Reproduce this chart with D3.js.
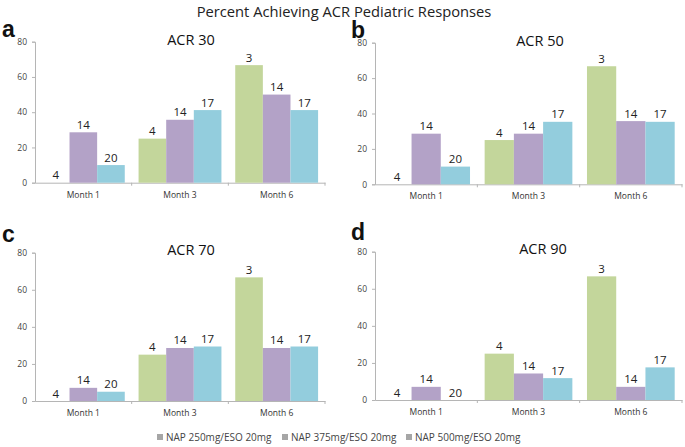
<!DOCTYPE html>
<html><head><meta charset="utf-8">
<script src="https://cdn.jsdelivr.net/npm/d3@7"></script>
<style>body{margin:0;background:#fff}svg{display:block}</style>
</head><body>
<svg id="c" width="685" height="447"></svg>
<script>
const months = ["Month 1", "Month 3", "Month 6"];
const series = ["NAP 250mg/ESO 20mg", "NAP 375mg/ESO 20mg", "NAP 500mg/ESO 20mg"];
const nLabels = [[4, 14, 20], [4, 14, 17], [3, 14, 17]];
const acr30 = [[0, 28.6, 10], [25, 35.7, 41.2], [66.7, 50, 41.2]];
const acr50 = [[0, 28.6, 10], [25, 28.6, 35.3], [66.7, 35.7, 35.3]];
const acr70 = [[0, 7.1, 5], [25, 28.6, 29.4], [66.7, 28.6, 29.4]];
const acr90 = [[0, 7.1, 0], [25, 14.3, 11.8], [66.7, 7.1, 17.6]];
const panelTitles = ["ACR 30", "ACR 50", "ACR 70", "ACR 90"];
const panelLetters = ["a", "b", "c", "d"];
const yTicks = [0, 20, 40, 60, 80];
const mainTitle = "Percent Achieving ACR Pediatric Responses";

const colors = ["#c3d69b", "#b3a2c7", "#93cddd"];
const panelData = [acr30, acr50, acr70, acr90];
const layout = [
  {l: 35, r: 325, t: 41.7, b: 182.7, tx: 191, ty: 45, lx: 2, ly: 37},
  {l: 375, r: 682, t: 42.7, b: 184.3, tx: 540, ty: 46, lx: 351, ly: 37.5},
  {l: 35, r: 325, t: 252.7, b: 401, tx: 191, ty: 255, lx: 2, ly: 241.5},
  {l: 375, r: 682, t: 251.7, b: 400, tx: 543, ty: 254, lx: 351, ly: 240}
];
const font = "'Open Sans', sans-serif";
const svg = d3.select("#c");

// main title
const mt = svg.append("text").attr("x", 344).attr("y", 16.5).attr("text-anchor", "middle")
  .attr("font-family", font).attr("font-size", 16).attr("fill", "#222").text(mainTitle);
const w = mt.node().getComputedTextLength();
mt.attr("font-size", 16 * 295 / w);

panelData.forEach((data, pi) => {
  const L = layout[pi];
  const g = svg.append("g");
  const x0 = d3.scaleBand().domain(months).range([L.l, L.r]).paddingInner(0).paddingOuter(0);
  const x1 = d3.scaleBand().domain(series).range([0, x0.bandwidth()]).paddingInner(0).paddingOuter(0.25);
  const y = d3.scaleLinear().domain([0, 80]).range([L.b, L.t]);

  // y axis
  const ya = g.append("g").attr("transform", `translate(${L.l},0)`)
    .call(d3.axisLeft(y).tickValues(yTicks).tickSize(3).tickPadding(5));
  ya.select(".domain").attr("stroke", "#b5b5b5");
  ya.selectAll(".tick line").attr("stroke", "#b5b5b5");
  ya.selectAll(".tick text").attr("font-family", font).attr("font-size", 8.5).attr("fill", "#444");

  // x axis
  const xa = g.append("g").attr("transform", `translate(0,${L.b})`)
    .call(d3.axisBottom(x0).tickSize(0).tickPadding(9));
  xa.select(".domain").attr("stroke", "#b5b5b5");
  xa.selectAll(".tick text").attr("font-family", font).attr("font-size", 8.5).attr("fill", "#333");
  // separator ticks between categories
  g.selectAll("line.sep").data(months.slice(1).concat(["end"])).enter().append("line")
    .attr("x1", (d, i) => i < 2 ? x0(d) : L.r).attr("x2", (d, i) => i < 2 ? x0(d) : L.r)
    .attr("y1", L.b).attr("y2", L.b + 3).attr("stroke", "#b5b5b5");

  // bars
  months.forEach((m, mi) => {
    const gg = g.append("g").attr("transform", `translate(${x0(m)},0)`);
    gg.selectAll("rect").data(series).enter().append("rect")
      .attr("x", s => x1(s)).attr("width", x1.bandwidth())
      .attr("y", (s, si) => y(data[mi][si]))
      .attr("height", (s, si) => y(0) - y(data[mi][si]))
      .attr("fill", (s, si) => colors[si]);
    gg.selectAll("text").data(series).enter().append("text")
      .attr("x", s => x1(s) + x1.bandwidth() / 2)
      .attr("y", (s, si) => y(data[mi][si]) - 3.5)
      .attr("text-anchor", "middle").attr("font-family", font).attr("font-size", 11.5).attr("fill", "#222")
      .text((s, si) => nLabels[mi][si]);
  });

  // panel title
  g.append("text").attr("x", L.tx).attr("y", L.ty).attr("text-anchor", "middle")
    .attr("font-family", font).attr("font-size", 14.5).attr("fill", "#111").text(panelTitles[pi]);
  // panel letter
  g.append("text").attr("x", L.lx).attr("y", L.ly)
    .attr("font-family", "'Liberation Sans', Arial, sans-serif").attr("font-weight", "bold")
    .attr("font-size", 23).attr("fill", "#111").text(panelLetters[pi]);
});

// legend
const legendX = [157, 282, 406];
const lg = svg.append("g");
series.forEach((s, i) => {
  lg.append("rect").attr("x", legendX[i]).attr("y", 434).attr("width", 6).attr("height", 6).attr("fill", "#a6a6a6");
  lg.append("text").attr("x", legendX[i] + 9).attr("y", 441).attr("font-family", font)
    .attr("font-size", 10).attr("fill", "#444").text(s);
});
</script>
</body></html>
